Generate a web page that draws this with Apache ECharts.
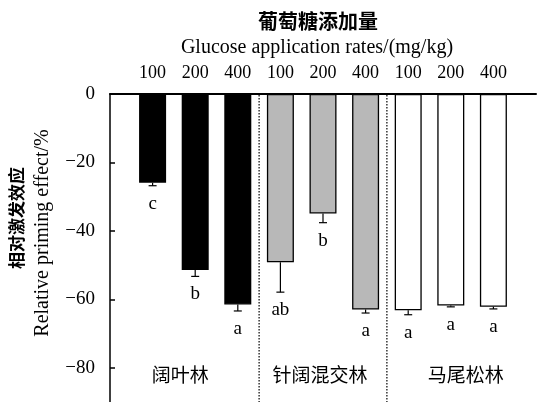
<!DOCTYPE html>
<html>
<head>
<meta charset="utf-8">
<script src="https://cdn.jsdelivr.net/npm/echarts@6/dist/echarts.min.js"></script>
<style>html,body{margin:0;padding:0;background:#fff;}#c{width:539px;height:402px;}</style>
</head>
<body>
<div id="c"></div>
<script>
// ---- data ----
const rateLabels = ['', '100', '200', '400', '100', '200', '400', '100', '200', '400', ''];
const groups = ['阔叶林', '针阔混交林', '马尾松林'];
const means = [-25.9, -51.4, -61.5, -49.2, -34.9, -63.0, -63.2, -61.8, -62.2];
const errors = [0.9, 1.9, 1.9, 8.7, 2.7, 1.0, 1.3, 0.4, 0.6];
const letters = ['c', 'b', 'a', 'ab', 'b', 'a', 'a', 'a', 'a'];
const yTicks = [0, -20, -40, -60, -80];

// ---- style ----
const groupColors = ['#000000', '#b8b8b8', '#ffffff'];
const groupLabelDx = [-15, -3, 15];
const serif = '"Liberation Serif", "DejaVu Serif", serif';
const cjk = '"Noto Sans CJK SC", sans-serif';

const chart = echarts.init(document.getElementById('c'), null, {renderer: 'canvas'});

const barData = [null].concat(means).concat([null]);
const errData = means.map((m, i) => [i + 1, m, errors[i], i]);
const sepData = [[3, 4], [6, 7]];
const grpData = groups.map((g, i) => [2 + 3 * i, i]);

chart.setOption({
  animation: false,
  backgroundColor: '#fff',
  grid: {left: 110, right: -1, top: 94, bottom: -2, containLabel: false},
  xAxis: {
    type: 'category', position: 'top', data: rateLabels, boundaryGap: false,
    axisLine: {lineStyle: {color: '#000', width: 2}},
    axisTick: {show: false},
    axisLabel: {color: '#000', fontFamily: serif, fontSize: 18, margin: 12, interval: 0}
  },
  yAxis: {
    type: 'value', min: -90, max: 0,
    axisLine: {show: true, lineStyle: {color: '#000', width: 1.5}},
    axisTick: {show: true, inside: true, length: 5, customValues: yTicks, lineStyle: {color: '#000', width: 1.5}},
    axisLabel: {color: '#000', fontFamily: serif, fontSize: 19, margin: 15, customValues: yTicks,
      formatter: v => String(v).replace('-', '\u2212')},
    splitLine: {show: false}
  },
  series: [
    {
      type: 'bar', data: barData, barWidth: 27,
      itemStyle: {
        color: p => groupColors[Math.floor((p.dataIndex - 1) / 3)],
        borderColor: '#000', borderWidth: 1.3
      }
    },
    {
      type: 'custom', data: errData, z: 5,
      renderItem: (params, api) => {
        const x = api.value(0), m = api.value(1), e = api.value(2), i = api.value(3);
        const p0 = api.coord([x, m]);
        const p1 = api.coord([x, m - e]);
        const cap = 4;
        return {
          type: 'group',
          children: [
            {type: 'line', shape: {x1: p0[0], y1: p0[1], x2: p1[0], y2: p1[1]}, style: {stroke: '#000', lineWidth: 1.2}},
            {type: 'line', shape: {x1: p1[0] - cap, y1: p1[1], x2: p1[0] + cap, y2: p1[1]}, style: {stroke: '#000', lineWidth: 1.2}},
            {type: 'text', x: p1[0], y: p1[1] + 18, style: {text: letters[i], fill: '#000', font: '19px ' + serif, textAlign: 'center', textVerticalAlign: 'middle'}}
          ]
        };
      }
    },
    {
      type: 'custom', data: sepData, z: 6,
      renderItem: (params, api) => {
        const a = api.coord([api.value(0), 0]);
        const b = api.coord([api.value(1), 0]);
        const bot = api.coord([api.value(0), -90]);
        const x = (a[0] + b[0]) / 2;
        return {type: 'line', shape: {x1: x, y1: a[1] + 1, x2: x, y2: bot[1]},
          style: {stroke: '#000', lineWidth: 1.2, lineDash: [1.5, 1.5]}};
      }
    },
    {
      type: 'custom', data: grpData, z: 6,
      renderItem: (params, api) => {
        const i = api.value(1);
        const p = api.coord([api.value(0), -82]);
        return {type: 'text', x: p[0] + groupLabelDx[i], y: p[1],
          style: {text: groups[i], fill: '#000', font: '19px ' + cjk, textAlign: 'center', textVerticalAlign: 'middle'}};
      }
    }
  ],
  graphic: [
    {type: 'text', x: 318, y: 21, style: {text: '葡萄糖添加量', fill: '#000', font: 'bold 20px ' + cjk, textAlign: 'center', textVerticalAlign: 'middle'}},
    {type: 'text', x: 317, y: 48, style: {text: 'Glucose application rates/(mg/kg)', fill: '#000', font: '20px ' + serif, textAlign: 'center', textVerticalAlign: 'middle'}},
    {type: 'text', x: 17, y: 218, rotation: Math.PI / 2, style: {text: '相对激发效应', fill: '#000', font: 'bold 17px ' + cjk, textAlign: 'center', textVerticalAlign: 'middle'}},
    {type: 'text', x: 43, y: 233, rotation: Math.PI / 2, style: {text: 'Relative priming effect/%', fill: '#000', font: '20px ' + serif, textAlign: 'center', textVerticalAlign: 'middle'}}
  ]
});
</script>
</body>
</html>
